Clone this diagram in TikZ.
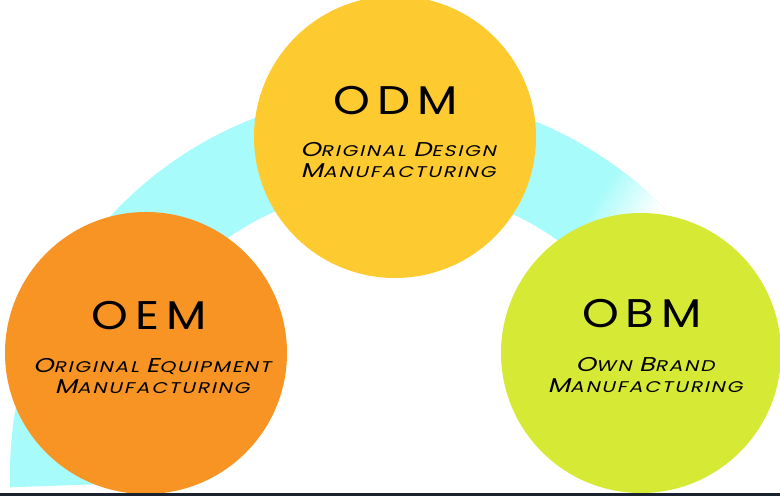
\documentclass[tikz,border=0pt]{standalone}
\usepackage{fontspec}
\usetikzlibrary{calc}
\newfontfamily\titlefont[LetterSpace=15]{Poppins}
\newfontfamily\subfont[FakeSlant=0.2,LetterSpace=9]{Poppins}
\newcommand\cw[2]{{\fontsize{20}{21}\selectfont #1}{\fontsize{15.5}{21}\selectfont #2}}
\definecolor{cyanband}{HTML}{A8FBFB}
\definecolor{odmc}{HTML}{FDCA30}
\definecolor{oemc}{HTML}{F89424}
\definecolor{obmc}{HTML}{D6E934}
\definecolor{linec}{HTML}{1B2230}
\tikzset{
  bubble/.style={circle, inner sep=0pt},
  title/.style={anchor=base, xscale=1.17, font=\titlefont\fontsize{40}{42}\selectfont, inner sep=0pt},
  sublines/.style={anchor=base, align=center, inner sep=0pt, xscale=1.3,
    font=\subfont\fontsize{15.5}{21}\selectfont},
}
\begin{document}
\begin{tikzpicture}[x=1pt,y=1pt]
\useasboundingbox (0,0) rectangle (780,496);
\coordinate (c) at (391,22);
\begin{scope}
\clip (0,0) rectangle (780,496);
\fill[cyanband] ($(c)+(182:381)$) arc[start angle=182,end angle=20,radius=381]
  -- ($(c)+(20:287)$) arc[start angle=20,end angle=182,radius=287] -- cycle;
\end{scope}
% fading end of the band (right side)
\begin{scope}
\clip ($(c)+(182:381)$) arc[start angle=182,end angle=20,radius=381]
  -- ($(c)+(20:287)$) arc[start angle=20,end angle=182,radius=287] -- cycle;
\clip (450,0) rectangle (780,496);
\begin{scope}[shift={(605,311.6)}, rotate=-32]
  \foreach \i in {0,...,24}{
    \pgfmathsetmacro{\p}{100-4*\i}
    \fill[cyanband!\p!white] (2.3*\i,-300) rectangle (2.3*\i+2.7,300);
  }
  \fill[white] (57,-300) rectangle (400,300);
\end{scope}
\end{scope}
\node[bubble, fill=odmc, minimum size=282pt] (odm) at (395,359) {};
\node[bubble, fill=oemc, minimum size=282pt] (oem) at (146,143) {};
\node[bubble, fill=obmc, minimum size=280pt] (obm) at (641,143) {};
\fill[linec] (0,0) rectangle (780,3);
\node[title] (odmt) at (396,381) {ODM};
\node[sublines] (odms) at (398,318) {\cw{O}{RIGINAL} \cw{D}{ESIGN}\\\cw{M}{ANUFACTURING}};
\node[title] (oemt) at (149,166) {OEM};
\node[sublines] (oems) at (152,102) {\cw{O}{RIGINAL} \cw{E}{QUIPMENT}\\\cw{M}{ANUFACTURING}};
\node[title] (obmt) at (642,168) {OBM};
\node[sublines] (obms) at (645,103) {\cw{O}{WN} \cw{B}{RAND}\\\cw{M}{ANUFACTURING}};
\end{tikzpicture}
\end{document}
